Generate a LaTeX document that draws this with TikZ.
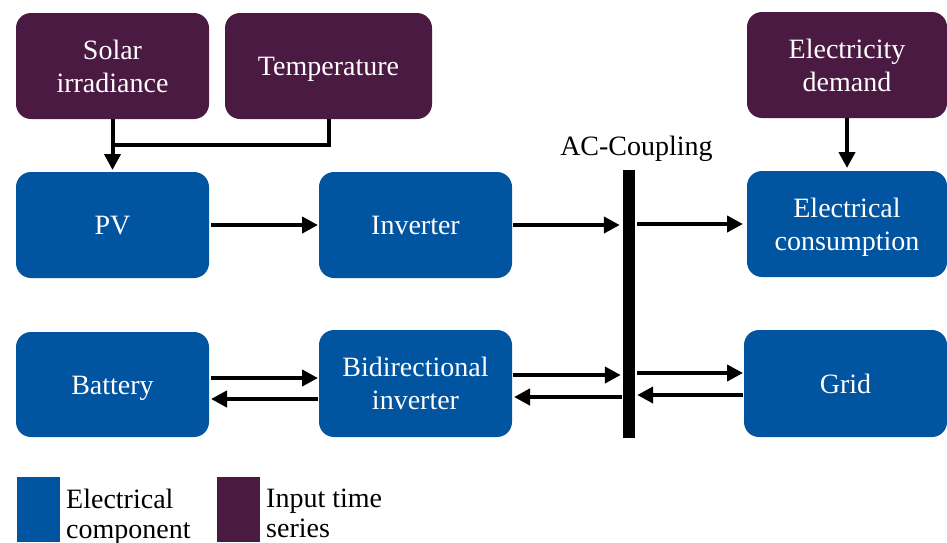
\documentclass[tikz,border=0pt]{standalone}
\usepackage{fontspec}
\setmainfont{Liberation Serif}
\usetikzlibrary{arrows.meta}
\definecolor{elecblue}{RGB}{0,84,160}
\definecolor{inputpurple}{RGB}{75,26,66}
\newcommand{\pstrut}{\rule[-7pt]{0pt}{33pt}}
\begin{document}
\begin{tikzpicture}[x=1pt, y=-1pt,
        box/.style={rounded corners=15pt, inner sep=0pt, outer sep=0pt, align=center,
            text=white, minimum width=193pt, minimum height=106pt},
        elecbox/.style={box, fill=elecblue},
        inputbox/.style={box, fill=inputpurple},
        flow/.style={line width=4pt, -{Triangle[length=16pt, width=16pt]}},
        font=\fontsize{28}{33}\selectfont]
            \useasboundingbox (0, 0) rectangle (947, 542);

            \node[inputbox] (solar) at (112.5, 66) {\pstrut Solar\\\pstrut irradiance};
            \node[inputbox, minimum width=207pt] (temp) at (328.5, 66) {\pstrut Temperature};
            \node[inputbox, minimum width=200pt] (demand) at (847, 65) {\pstrut Electricity\\\pstrut demand};

            \node[elecbox] (pv) at (112.5, 225) {\pstrut PV};
            \node[elecbox] (inv) at (415.5, 225) {\pstrut Inverter};
            \node[elecbox, minimum width=200pt] (cons) at (847, 224) {\pstrut Electrical\\\pstrut consumption};

            \node[elecbox, minimum height=105pt] (bat) at (112.5, 384.5) {\pstrut Battery};
            \node[elecbox, minimum height=107pt] (biinv) at (415.5, 383.5) {\pstrut Bidirectional\\\pstrut inverter};
            \node[elecbox, minimum width=203pt, minimum height=107pt] (grid) at (845.5, 383.5) {\pstrut Grid};

            \node[fill=black, inner sep=0pt, minimum width=12pt, minimum height=268pt] (bus) at (629, 304) {};
            \node[anchor=base] (buslabel) at (636.5, 155) {AC-Coupling};

            \coordinate (join) at (113, 145);
            \draw[flow] (solar.south) -- ([yshift=2pt]pv.north);
            \draw[line width=4pt] (temp.south) |- (join);
            \draw[flow] (demand.south) -- ([yshift=3pt]cons.north);

            \draw[flow, shorten <=2pt, shorten >=1pt] (pv) -- (inv);
            \draw[flow, shorten <=1pt, shorten >=3pt] (inv) -- (inv -| bus.west);
            \draw[flow, shorten <=2pt, shorten >=4pt] (bus.east |- cons) -- (cons);

            \draw[flow, shorten <=2pt, shorten >=1pt] (bat.east |- 0, 378) -- (biinv.west |- 0, 378);
            \draw[flow, shorten <=1pt, shorten >=2pt] (biinv.west |- 0, 399) -- (bat.east |- 0, 399);
            \draw[flow, shorten <=1pt, shorten >=2pt] (biinv.east |- 0, 375) -- (bus.west |- 0, 375);
            \draw[flow, shorten <=1pt, shorten >=2pt] (bus.west |- 0, 397) -- (biinv.east |- 0, 397);
            \draw[flow, shorten <=2pt, shorten >=1pt] (bus.east |- 0, 373) -- (grid.west |- 0, 373);
            \draw[flow, shorten <=1pt, shorten >=2pt] (grid.west |- 0, 395) -- (bus.east |- 0, 395);

            \node[fill=elecblue, inner sep=0pt, minimum width=43pt, minimum height=65pt] (keyelec) at (38.5, 509.5) {};
            \node[fill=inputpurple, inner sep=0pt, minimum width=43pt, minimum height=65pt] (keyinput) at (238.5, 509.5) {};
            \node[anchor=north west, inner sep=0pt, align=left, font=\fontsize{28}{30}\selectfont] (keyelectext) at (66, 489) {Electrical\\component};
            \node[anchor=north west, inner sep=0pt, align=left, font=\fontsize{28}{30}\selectfont] (keyinputtext) at (266, 489) {Input time\\series};
        \end{tikzpicture}
\end{document}
